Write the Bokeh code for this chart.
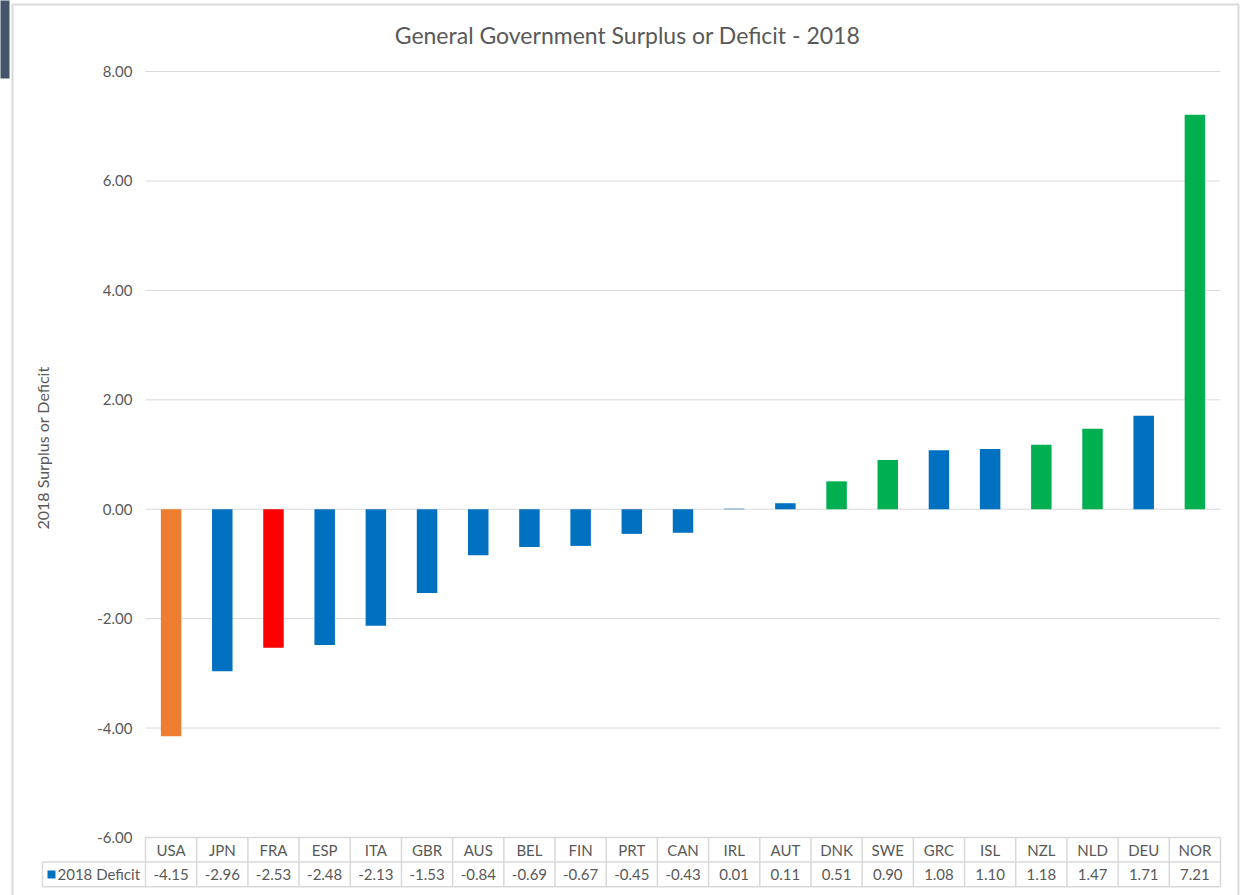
from bokeh.plotting import figure
from bokeh.models import LinearAxis, FixedTicker, PrintfTickFormatter, Range1d
from bokeh.core.properties import value
from bokeh.embed import file_html
from bokeh.resources import INLINE

# ---------------- data ----------------
countries = ["USA", "JPN", "FRA", "ESP", "ITA", "GBR", "AUS", "BEL", "FIN", "PRT", "CAN",
             "IRL", "AUT", "DNK", "SWE", "GRC", "ISL", "NZL", "NLD", "DEU", "NOR"]
deficit = [-4.15, -2.96, -2.53, -2.48, -2.13, -1.53, -0.84, -0.69, -0.67, -0.45, -0.43,
           0.01, 0.11, 0.51, 0.90, 1.08, 1.10, 1.18, 1.47, 1.71, 7.21]
bar_colors = ["#ED7D31", "#0070C0", "#FF0000", "#0070C0", "#0070C0", "#0070C0", "#0070C0",
              "#0070C0", "#0070C0", "#0070C0", "#0070C0", "#0070C0", "#0070C0", "#00B050",
              "#00B050", "#0070C0", "#0070C0", "#00B050", "#00B050", "#0070C0", "#00B050"]
y_ticks = [-6, -4, -2, 0, 2, 4, 6, 8]
series_name = "2018 Deficit"
chart_title = "General Government Surplus or Deficit - 2018"
y_title = "2018 Surplus or Deficit"

# ---------------- layout constants ----------------
FONT = "Lato"
TXT = "#595959"
LINE = "#D9D9D9"
W, H = 1243, 895
PX_X = 51.19          # px per category
PX_Y = 54.71          # px per unit
n = len(countries)
xs = list(range(n))


def dx(px):   # page x pixel -> data x
    return -0.5 + (px - 145) / PX_X


def dy(py):   # page y pixel -> data y
    return -6 + (837 - py) / PX_Y


x_start, x_end = dx(0), dx(W)
y_start, y_end = dy(H), dy(0)
y_top = min(y_ticks)
row_h = 24.6 / PX_Y
y_mid = y_top - row_h
y_bot = y_top - 2 * row_h
x_leg = dx(42)

p = figure(width=W, height=H, output_backend="svg", toolbar_location=None,
           x_range=Range1d(x_start, x_end), y_range=Range1d(y_start, y_end),
           x_axis_location=None, y_axis_location=None,
           min_border_left=0, min_border_right=0, min_border_top=0, min_border_bottom=0)
p.outline_line_color = None
p.grid.visible = False
p.background_fill_color = "white"
p.border_fill_color = "white"

# window strip at top-left and chart border
p.quad(left=[dx(-1)], right=[dx(9)], bottom=[dy(78)], top=[dy(-1)], fill_color="#44546A", line_color=None)
p.segment(x0=[dx(12), dx(12), dx(1238)], x1=[dx(12), dx(1238), dx(1238)],
          y0=[y_start, dy(4), dy(4)], y1=[dy(4), dy(4), y_start], line_color=LINE, line_width=2)

# title
p.text(x=[dx(627)], y=[dy(34)], text=[chart_title], text_align="center", text_baseline="middle",
       text_font=value(FONT), text_font_size="23px", text_color=TXT)

# y axis placed at the left edge of the plot area
yax = LinearAxis(ticker=FixedTicker(ticks=y_ticks), formatter=PrintfTickFormatter(format="%.2f"),
                 fixed_location=-0.5)
yax.axis_line_color = None
yax.major_tick_line_color = None
yax.minor_tick_line_color = None
yax.major_tick_out = 0
yax.major_tick_in = 0
yax.major_label_standoff = 13
yax.major_label_text_font = FONT
yax.major_label_text_font_size = "15px"
yax.major_label_text_color = TXT
yax.axis_label = y_title
yax.axis_label_standoff = 42
yax.axis_label_text_font = FONT
yax.axis_label_text_font_size = "16px"
yax.axis_label_text_font_style = "normal"
yax.axis_label_text_color = TXT
p.add_layout(yax, "left")

# gridlines
p.segment(x0=-0.5, x1=n - 0.5, y0=y_ticks, y1=y_ticks, line_color=LINE, line_width=1)

# bars
p.vbar(x=xs, top=deficit, bottom=0, width=0.4, fill_color=bar_colors, line_color=None)

# data table
p.segment(x0=[-0.5, x_leg, x_leg], x1=[n - 0.5] * 3, y0=[y_top, y_mid, y_bot], y1=[y_top, y_mid, y_bot],
          line_color=LINE, line_width=1.5)
vx = [i - 0.5 for i in range(n + 1)]
p.segment(x0=vx, x1=vx, y0=[y_top] * (n + 1), y1=[y_bot] * (n + 1), line_color=LINE, line_width=1.5)
p.segment(x0=[x_leg], x1=[x_leg], y0=[y_mid], y1=[y_bot], line_color=LINE, line_width=1.5)

p.text(x=xs, y=[y_top - row_h / 2] * n, text=countries, text_align="center", text_baseline="middle",
       text_font=value(FONT), text_font_size="15px", text_color=TXT)
p.text(x=xs, y=[y_mid - row_h / 2] * n, text=[f"{v:.2f}" for v in deficit], text_align="center",
       text_baseline="middle", text_font=value(FONT), text_font_size="15px", text_color=TXT)
p.scatter(x=[dx(51)], y=[y_mid - row_h / 2], marker="square", size=8,
          fill_color="#0070C0", line_color=None)
p.text(x=[dx(57)], y=[y_mid - row_h / 2], text=[series_name], text_align="left",
       text_baseline="middle", text_font=value(FONT), text_font_size="15px", text_color=TXT)

open("out.html", "w").write(file_html(p, INLINE))
